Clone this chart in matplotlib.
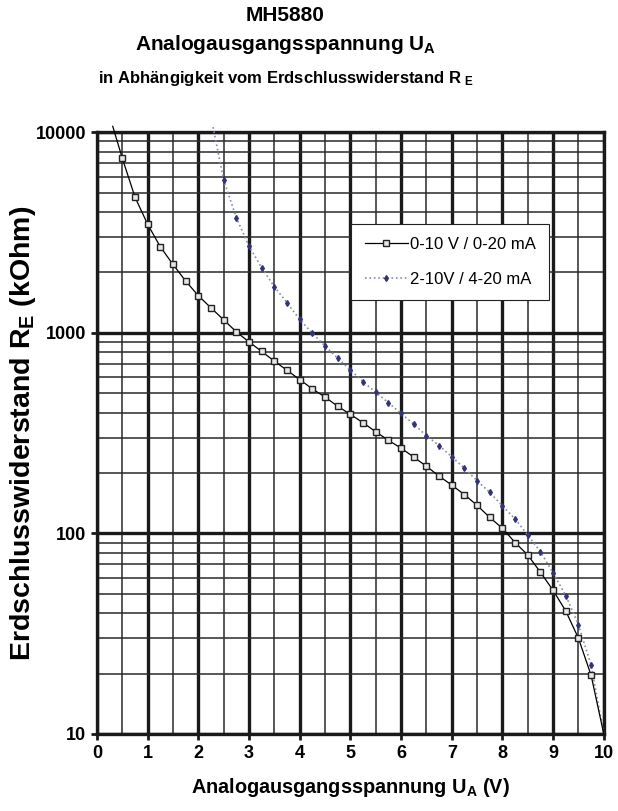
# MH5880: Analogausgangsspannung in Abhaengigkeit vom Erdschlusswiderstand

import matplotlib.pyplot as plt
import numpy as np
from matplotlib.ticker import FixedLocator, FixedFormatter, LogLocator, NullFormatter

plt.rcParams['font.family'] = ['Liberation Sans', 'DejaVu Sans']
plt.rcParams['mathtext.fontset'] = 'custom'
plt.rcParams['mathtext.rm'] = 'Liberation Sans'
plt.rcParams['mathtext.bf'] = 'Liberation Sans:bold'
plt.rcParams['mathtext.default'] = 'bf'

# 0-10 V / 0-20 mA
u1 = [0.31, 0.5, 0.75, 1.0, 1.25, 1.5, 1.75, 2.0, 2.25, 2.5, 2.75, 3.0, 3.25, 3.5,
      3.75, 4.0, 4.25, 4.5, 4.75, 5.0, 5.25, 5.5, 5.75, 6.0, 6.25, 6.5, 6.75, 7.0,
      7.25, 7.5, 7.75, 8.0, 8.25, 8.5, 8.75, 9.0, 9.25, 9.5, 9.75, 10.0]
r1 = [10700, 7400, 4740, 3470, 2680, 2190, 1810, 1530, 1330, 1160, 1010, 900, 807, 722,
      650, 584, 525, 478, 430, 392, 356, 321, 291, 266, 240, 216, 193, 174,
      156, 138, 120, 106, 90, 78, 64, 52, 41, 30, 19.6, 10]

# 2-10V / 4-20 mA
u2 = [2.29, 2.5, 2.75, 3.0, 3.25, 3.5, 3.75, 4.0, 4.25, 4.5, 4.75, 5.0, 5.25, 5.5,
      5.75, 6.0, 6.25, 6.5, 6.75, 7.0, 7.25, 7.5, 7.75, 8.0, 8.25, 8.5, 8.75, 9.0,
      9.25, 9.5, 9.75, 10.0]
r2 = [10600, 5770, 3740, 2700, 2110, 1695, 1410, 1167, 993, 859, 746, 652, 570, 505,
      448, 396, 350, 307, 274, 241, 211, 183, 160, 137, 118, 98, 81, 63.5,
      49, 35, 22, 10]

labels = ['0-10 V / 0-20 mA', '2-10V / 4-20 mA']
y_ticks = [10, 100, 1000, 10000]

fig = plt.figure(figsize=(6.18, 8.11), dpi=100)
ax = fig.add_axes([0.157, 0.095, 0.82, 0.742])

ax.set_yscale('log')
ax.set_xlim(0, 10)
ax.set_ylim(10, 10000)

# grid: heavy on integers / decades, light on halves / 2..9
ax.xaxis.set_major_locator(FixedLocator(np.arange(0, 11, 1)))
ax.xaxis.set_minor_locator(FixedLocator(np.arange(0.5, 10, 1)))
ax.yaxis.set_major_locator(FixedLocator(y_ticks))
ax.yaxis.set_major_formatter(FixedFormatter([str(v) for v in y_ticks]))
ax.yaxis.set_minor_locator(LogLocator(base=10, subs=np.arange(2, 10)))
ax.yaxis.set_minor_formatter(NullFormatter())
ax.grid(True, which='major', color='#1a1a1a', linewidth=2.4)
ax.grid(True, which='minor', color='#2a2a2a', linewidth=1.1)
ax.set_axisbelow(True)

for s in ax.spines.values():
    s.set_linewidth(2.4)
    s.set_color('#1a1a1a')

ax.tick_params(which='major', direction='out', length=4, width=2, color='#1a1a1a',
               labelsize=13, pad=4)
ax.tick_params(which='minor', length=0)
for t in ax.get_xticklabels() + ax.get_yticklabels():
    t.set_fontweight('bold')

ax.plot(u1, r1, color='black', linewidth=0.9, marker='s', markersize=5,
        markerfacecolor='#e6e6e6', markeredgecolor='#222222', markeredgewidth=1.0,
        markevery=list(range(1, len(u1) - 1)), clip_on=False, label=labels[0], zorder=4)
ax.plot(u2, r2, color='#8a8aa8', linewidth=1.2, linestyle=':', marker='d', markersize=3,
        markerfacecolor='#33337a', markeredgecolor='#33337a',
        markevery=list(range(1, len(u2) - 1)), clip_on=False, label=labels[1], zorder=3)

leg = ax.legend(loc='upper left', bbox_to_anchor=(0.502, 0.848), fontsize=12,
                frameon=True, fancybox=False, framealpha=1, edgecolor='#222222',
                borderpad=0.8, labelspacing=1.2, handlelength=2.6, handletextpad=0.1,
                borderaxespad=0)
leg.get_frame().set_linewidth(0.8)

ax.set_xlabel('Analogausgangsspannung U$_A$ (V)', fontsize=14.3, fontweight='bold', labelpad=10)
ax.set_ylabel('Erdschlusswiderstand R$_E$ (kOhm)', fontsize=20.5, fontweight='bold')
ax.yaxis.set_label_coords(-0.117, 0.5)

fig.text(0.462, 0.981, 'MH5880', ha='center', va='center', fontsize=15, fontweight='bold')
fig.text(0.462, 0.945, 'Analogausgangsspannung U$_A$', ha='center', va='center',
         fontsize=15, fontweight='bold')
fig.text(0.462, 0.903, 'in Abhängigkeit vom Erdschlusswiderstand R$_{\\ E}$', ha='center',
         va='center', fontsize=12, fontweight='bold')

fig.savefig('out.png', dpi=100)
